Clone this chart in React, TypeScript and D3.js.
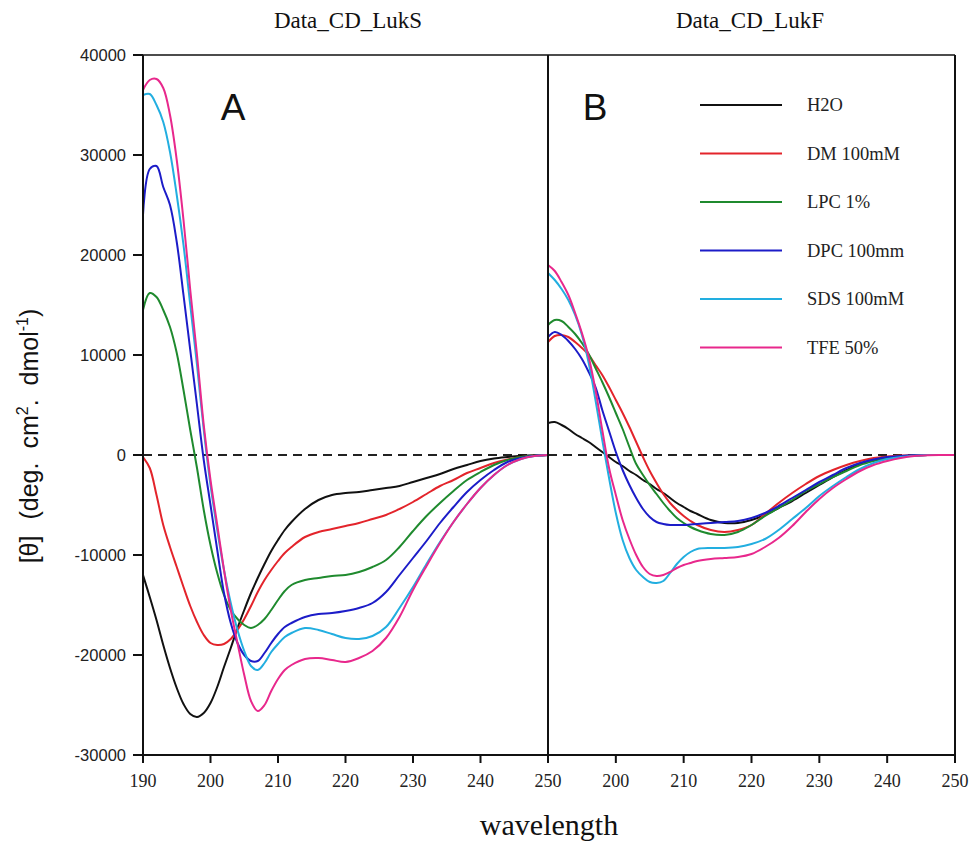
import React from "react";
import * as d3 from "d3";

const wavelengths = [190,191,192,193,194,195,196,197,198,199,200,201,202,203,204,205,206,207,208,209,210,211,212,214,216,218,220,222,224,226,228,230,232,234,236,238,240,242,244,246,248,250];

const seriesNames = ["H2O", "DM 100mM", "LPC 1%", "DPC 100mm", "SDS 100mM", "TFE 50%"];
const seriesColors = ["#111111", "#e3242b", "#1f8a2e", "#1c1cc8", "#22aee0", "#e8288c"];

// Panel A: Data_CD_LukS
const lukS_H2O = [-12000,-14200,-16500,-19000,-21300,-23300,-24900,-25900,-26200,-25800,-24800,-23200,-21200,-19300,-17300,-15500,-13800,-12300,-10900,-9600,-8500,-7500,-6700,-5400,-4500,-4000,-3800,-3700,-3500,-3300,-3100,-2700,-2300,-1900,-1400,-1000,-600,-350,-200,-80,-20,0];
const lukS_DM = [-200,-1300,-4000,-7000,-9200,-11200,-13200,-15100,-16700,-18000,-18800,-19000,-18900,-18400,-17500,-16400,-15100,-13700,-12500,-11500,-10600,-9800,-9200,-8200,-7700,-7400,-7100,-6800,-6400,-6000,-5400,-4700,-3900,-3100,-2500,-1800,-1300,-800,-450,-200,-60,0];
const lukS_LPC = [14500,16200,15800,14500,12800,10200,6500,2500,-1300,-5500,-9000,-11800,-14000,-15500,-16400,-17000,-17300,-17000,-16400,-15500,-14500,-13600,-13000,-12500,-12300,-12100,-12000,-11700,-11200,-10500,-9200,-7600,-6100,-4800,-3600,-2500,-1700,-1000,-500,-200,-50,0];
const lukS_DPC = [24000,28600,28900,26800,25000,21300,16000,10500,5000,-500,-5000,-9500,-13800,-16800,-18800,-20000,-20600,-20600,-19800,-18800,-17900,-17200,-16800,-16200,-15900,-15800,-15600,-15300,-14800,-13700,-12000,-10300,-8600,-6800,-5200,-3700,-2500,-1500,-700,-300,-80,0];
const lukS_SDS = [36000,36100,35000,33300,30300,26000,21000,15000,9000,2500,-3000,-7500,-11500,-14800,-17500,-19600,-21100,-21500,-20800,-19700,-18900,-18200,-17800,-17300,-17500,-17900,-18300,-18400,-18100,-17200,-15300,-13200,-10900,-8700,-6700,-4900,-3300,-2000,-1000,-400,-100,0];
const lukS_TFE = [36500,37500,37600,36700,34000,29500,23500,16500,10000,3000,-2500,-7000,-11500,-15500,-18800,-22000,-24600,-25600,-25000,-23600,-22400,-21500,-21000,-20400,-20300,-20500,-20700,-20300,-19600,-18300,-16200,-13500,-11100,-8800,-6700,-4900,-3300,-2000,-1000,-400,-100,0];

// Panel B: Data_CD_LukF
const lukF_H2O = [3200,3300,3000,2600,2100,1700,1300,800,300,-200,-700,-1100,-1600,-2000,-2500,-2900,-3400,-3800,-4300,-4800,-5200,-5600,-5900,-6500,-6800,-6800,-6500,-6000,-5300,-4600,-3800,-3000,-2200,-1500,-900,-500,-250,-100,-50,0,0,0];
const lukF_DM = [11300,11900,12000,11800,11300,10700,10000,9000,8000,6800,5500,4200,2800,1300,-200,-1600,-2800,-3900,-4800,-5500,-6100,-6600,-7000,-7500,-7700,-7500,-7000,-5900,-4800,-3800,-2900,-2100,-1500,-1000,-600,-300,-150,-60,-20,0,0,0];
const lukF_LPC = [13000,13500,13400,12800,12100,11200,10100,8700,7300,5800,4200,2600,800,-900,-2000,-3000,-3900,-4800,-5600,-6300,-6800,-7200,-7500,-7900,-8000,-7700,-7000,-6100,-5300,-4500,-3600,-2900,-2200,-1600,-1000,-600,-300,-150,-50,0,0,0];
const lukF_DPC = [11800,12300,12000,11400,10600,9600,8300,6800,4500,2400,300,-1500,-3000,-4300,-5400,-6200,-6700,-6900,-7000,-7000,-7000,-6950,-6900,-6800,-6700,-6600,-6300,-5800,-5100,-4300,-3500,-2700,-2000,-1300,-800,-450,-200,-100,-30,0,0,0];
const lukF_SDS = [18200,17500,16600,15500,14000,12000,9200,5500,1500,-2300,-5800,-8500,-10300,-11500,-12200,-12700,-12800,-12600,-11800,-10900,-10200,-9700,-9400,-9300,-9300,-9200,-8900,-8400,-7500,-6400,-5300,-4100,-3100,-2200,-1400,-800,-400,-200,-80,0,0,0];
const lukF_TFE = [19000,18400,17300,16000,14200,12200,9800,6500,2500,-1300,-4000,-6500,-8400,-10000,-11200,-11900,-12100,-12000,-11700,-11300,-11000,-10800,-10600,-10400,-10300,-10200,-9900,-9200,-8300,-7100,-5700,-4400,-3300,-2400,-1600,-1000,-600,-300,-100,-20,0,0];

const yTicks = [40000, 30000, 20000, 10000, 0, -10000, -20000, -30000];
const xTicksA = [190, 200, 210, 220, 230, 240, 250];
const xTicksB = [200, 210, 220, 230, 240, 250];

const panelTitles = ["Data_CD_LukS", "Data_CD_LukF"];
const panelLetters = ["A", "B"];

const W = 970, H = 847;
const top = 55, bottom = 755;
const aLeft = 143, mid = 548, bRight = 955;

export default function App() {
  const y = d3.scaleLinear().domain([-30000, 40000]).range([bottom, top]);
  const xA = d3.scaleLinear().domain([190, 250]).range([aLeft, mid]);
  const xB = d3.scaleLinear().domain([190, 250]).range([mid, bRight]);

  const panelA = [lukS_H2O, lukS_DM, lukS_LPC, lukS_DPC, lukS_SDS, lukS_TFE];
  const panelB = [lukF_H2O, lukF_DM, lukF_LPC, lukF_DPC, lukF_SDS, lukF_TFE];

  const mkLine = (x: d3.ScaleLinear<number, number>) =>
    d3.line<number>()
      .x((_, i) => x(wavelengths[i]))
      .y((v) => y(v))
      .curve(d3.curveCatmullRom.alpha(0.5));

  const lineA = mkLine(xA);
  const lineB = mkLine(xB);

  const serif = "'Liberation Serif', 'Times New Roman', serif";
  const sans = "'Liberation Sans', Arial, sans-serif";

  const legendY0 = 105, legendDy = 48.5;

  return (
    <svg width={W} height={H} style={{ position: "absolute", left: 0, top: 0, background: "#fff" }}>
      <defs>
        <clipPath id="clipA"><rect x={aLeft} y={top} width={mid - aLeft} height={bottom - top} /></clipPath>
        <clipPath id="clipB"><rect x={mid} y={top} width={bRight - mid} height={bottom - top} /></clipPath>
      </defs>

      {/* titles */}
      <text x={348} y={28} textAnchor="middle" fontFamily={serif} fontSize={23} fill="#111">{panelTitles[0]}</text>
      <text x={750} y={28} textAnchor="middle" fontFamily={serif} fontSize={23} fill="#111">{panelTitles[1]}</text>

      {/* zero dashed */}
      <line x1={aLeft} x2={bRight} y1={y(0)} y2={y(0)} stroke="#222" strokeWidth={2} strokeDasharray="9,6" />

      {/* curves */}
      <g clipPath="url(#clipA)">
        {panelA.map((s, i) => (
          <path key={i} d={lineA(s) || ""} fill="none" stroke={seriesColors[i]} strokeWidth={2} />
        ))}
      </g>
      <g clipPath="url(#clipB)">
        {panelB.map((s, i) => (
          <path key={i} d={lineB(s) || ""} fill="none" stroke={seriesColors[i]} strokeWidth={2} />
        ))}
      </g>

      {/* frame */}
      <line x1={aLeft} x2={bRight} y1={top} y2={top} stroke="#111" strokeWidth={1.5} />
      <line x1={aLeft - 10} x2={bRight} y1={bottom} y2={bottom} stroke="#111" strokeWidth={2} />
      <line x1={aLeft} x2={aLeft} y1={top} y2={bottom + 8} stroke="#111" strokeWidth={2} />
      <line x1={mid} x2={mid} y1={top} y2={bottom + 8} stroke="#111" strokeWidth={2} />
      <line x1={bRight} x2={bRight} y1={top} y2={bottom + 8} stroke="#111" strokeWidth={2} />

      {/* y ticks */}
      {yTicks.map((t) => (
        <g key={t}>
          <line x1={aLeft - 10} x2={aLeft} y1={y(t)} y2={y(t)} stroke="#111" strokeWidth={2} />
          <text x={aLeft - 17} y={y(t)} textAnchor="end" dominantBaseline="central" fontFamily={sans} fontSize={16.5} fill="#222">{t}</text>
        </g>
      ))}

      {/* x ticks A */}
      {xTicksA.map((t) => (
        <g key={"a" + t}>
          <line x1={xA(t)} x2={xA(t)} y1={bottom} y2={bottom + 8} stroke="#111" strokeWidth={2} />
          <text x={xA(t)} y={bottom + 32} textAnchor="middle" fontFamily={serif} fontSize={18} fill="#222">{t}</text>
        </g>
      ))}
      {/* x ticks B */}
      {xTicksB.map((t) => (
        <g key={"b" + t}>
          <line x1={xB(t)} x2={xB(t)} y1={bottom} y2={bottom + 8} stroke="#111" strokeWidth={2} />
          <text x={xB(t)} y={bottom + 32} textAnchor="middle" fontFamily={serif} fontSize={18} fill="#222">{t}</text>
        </g>
      ))}

      {/* axis labels */}
      <text x={549} y={835} textAnchor="middle" fontFamily={serif} fontSize={30} fill="#111">wavelength</text>
      <text transform="translate(38,436) rotate(-90)" textAnchor="middle" fontFamily={sans} fontSize={25} fill="#111">
        <tspan>[θ]</tspan>
        <tspan dx={16}>(deg.</tspan>
        <tspan dx={14}>cm</tspan>
        <tspan fontSize={16} dy={-10}>2</tspan>
        <tspan dy={10}>.</tspan>
        <tspan dx={14}>dmol</tspan>
        <tspan fontSize={16} dy={-10}>-1</tspan>
        <tspan dy={10}>)</tspan>
      </text>

      {/* panel letters */}
      <text x={233} y={120} textAnchor="middle" fontFamily={sans} fontSize={37} fill="#111">{panelLetters[0]}</text>
      <text x={595} y={120} textAnchor="middle" fontFamily={sans} fontSize={37} fill="#111">{panelLetters[1]}</text>

      {/* legend */}
      {seriesNames.map((n, i) => (
        <g key={n}>
          <line x1={700} x2={782} y1={legendY0 + i * legendDy} y2={legendY0 + i * legendDy} stroke={seriesColors[i]} strokeWidth={2} />
          <text x={807} y={legendY0 + i * legendDy} dominantBaseline="central" fontFamily={serif} fontSize={18.5} fill="#222">{n}</text>
        </g>
      ))}
    </svg>
  );
}
